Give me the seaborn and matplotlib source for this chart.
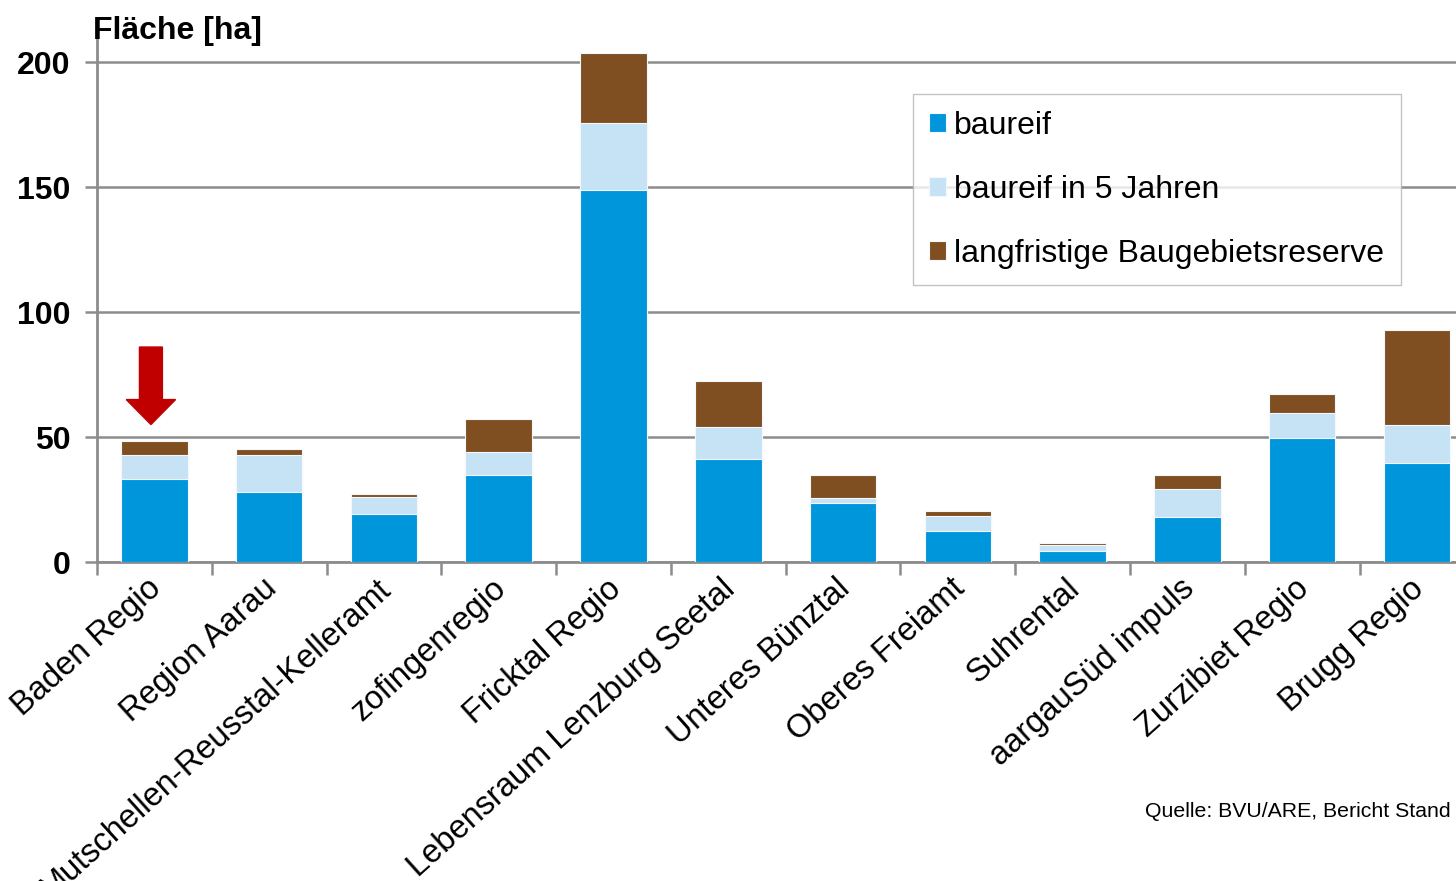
"""
Gestapelte Balken — Bauzonenreserven nach Region
"""
import numpy as np
import pandas as pd
import matplotlib
matplotlib.use('Agg')
import matplotlib.pyplot as plt
import matplotlib.transforms as mtransforms
import seaborn as sns

regionen = ['Baden Regio', 'Region Aarau', 'Mutschellen-Reusstal-Kelleramt',
            'zofingenregio', 'Fricktal Regio', 'Lebensraum Lenzburg Seetal',
            'Unteres Bünztal', 'Oberes Freiamt', 'Suhrental',
            'aargauSüd impuls', 'Zurzibiet Regio', 'Brugg Regio']
baureif = [33.2, 28.0, 19.2, 34.8, 148.8, 41.2, 23.6, 12.4, 4.4, 18.0, 49.6, 39.6]
baureif_5j = [9.6, 14.8, 6.8, 9.2, 26.8, 12.8, 2.0, 6.0, 2.4, 11.2, 10.0, 15.2]
reserve = [5.6, 2.4, 1.2, 13.2, 28.0, 18.4, 9.2, 2.0, 0.8, 5.6, 7.6, 38.0]
serien = ['baureif', 'baureif in 5 Jahren', 'langfristige Baugebietsreserve']
farben = ['#0096dc', '#c6e2f5', '#7f4f21']

sns.set_theme(style='white')
plt.rcParams['font.family'] = ['Liberation Sans', 'DejaVu Sans']
plt.rcParams['text.color'] = 'black'

df = pd.DataFrame({'region': regionen, 'b1': baureif, 'b2': baureif_5j, 'b3': reserve})
df['s1'] = df['b1']
df['s2'] = df['b1'] + df['b2']
df['s3'] = df['s2'] + df['b3']

fig = plt.figure(figsize=(14.56, 8.81), dpi=100)
ax = fig.add_axes([0.0666, 0.362, 0.9334, 0.596])

# Summen von oben nach unten übereinander zeichnen
for col, farbe, name in zip(['s3', 's2', 's1'], farben[::-1], serien[::-1]):
    sns.barplot(data=df, x='region', y=col, order=regionen, color=farbe,
                width=0.58, edgecolor='#f4f8fc', linewidth=0.8, saturation=1,
                label=name, ax=ax, zorder=3)

ax.set_yticks([0, 50, 100, 150, 200])
ax.set_xticks(np.arange(len(regionen)))
ax.set_xticks(np.arange(-0.5, len(regionen) - 1, 1), minor=True)
ax.set_xlim(-0.5, 11.34)
ax.set_ylim(0, 210)
ax.yaxis.grid(True, color='#8c8c8c', linewidth=1.8)
ax.set_axisbelow(True)
for s in ['top', 'right']:
    ax.spines[s].set_visible(False)
for s in ['left', 'bottom']:
    ax.spines[s].set_color('#8c8c8c')
    ax.spines[s].set_linewidth(2)

ax.set_xlabel('')
ax.set_ylabel('')
ax.tick_params(axis='y', which='major', left=True, length=9, width=1.8,
               color='#8c8c8c', labelsize=23, pad=10, labelcolor='black')
for lab in ax.get_yticklabels():
    lab.set_fontweight('bold')

ax.tick_params(axis='x', which='major', bottom=False, labelsize=23.5, pad=3,
               labelcolor='black')
ax.tick_params(axis='x', which='minor', bottom=True, length=9, width=1.8,
               color='#8c8c8c')
ax.set_xticklabels(regionen, rotation=42, ha='right', va='center',
                   rotation_mode='anchor')
# Beschriftungen leicht nach rechts unten schieben
versatz = mtransforms.ScaledTranslation(3 / 100, -10 / 100, fig.dpi_scale_trans)
for lab in ax.get_xticklabels():
    lab.set_transform(lab.get_transform() + versatz)

# Pfeil über Baden Regio
ax.arrow(-0.03, 86, 0, -31, width=0.2, head_width=0.43, head_length=10,
         length_includes_head=True, color='#c00000', zorder=5)

handles, labels = ax.get_legend_handles_labels()
leg = ax.legend(handles[::-1], labels[::-1], loc='upper right',
                bbox_to_anchor=(0.9595, 0.891), fontsize=23, frameon=True,
                fancybox=False, edgecolor='#b4b4b4', handlelength=0.53,
                handleheight=0.53, handletextpad=0.25, labelspacing=1.06,
                borderpad=0.52, borderaxespad=0)
leg.get_frame().set_linewidth(1)
for t in leg.get_texts():
    t.set_color('black')

fig.text(0.064, 0.965, 'Fläche [ha]', fontsize=23, fontweight='bold',
         ha='left', va='center')
fig.text(0.996, 0.079, 'Quelle: BVU/ARE, Bericht Stand', fontsize=15.3,
         ha='right', va='center')

plt.savefig('out.png', dpi=100)
plt.close()
